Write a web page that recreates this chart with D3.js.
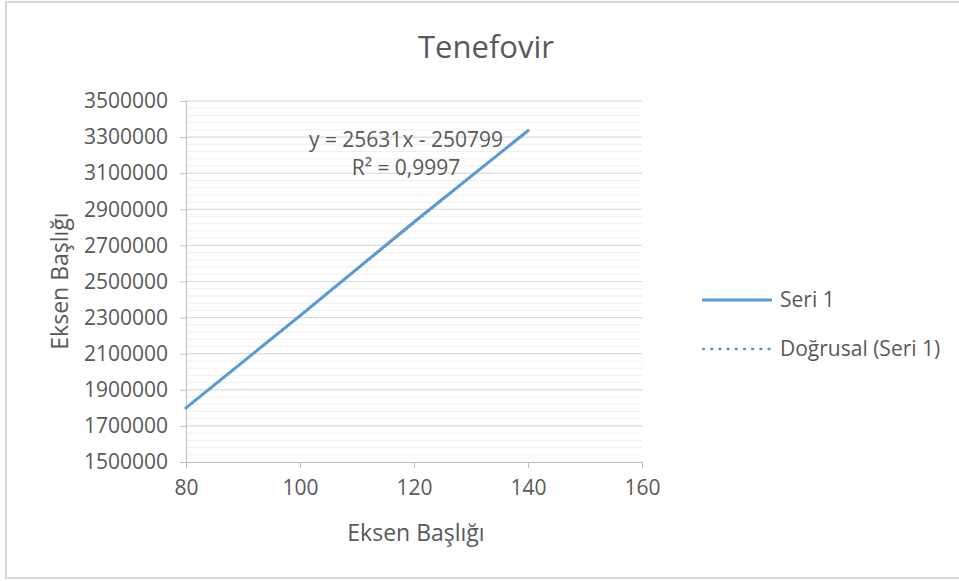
<!DOCTYPE html>
<html lang="tr">
<head>
    <meta charset="utf-8">
    <title>Tenefovir</title>
    <script src="https://d3js.org/d3.v7.min.js"></script>
    <style>
        body { margin: 0; background: #fff; }
        text { font-family: "Open Sans", "Noto Sans", Arial; fill: #595959; }
        .tick-label { font-size: 21px; }
        .axis-title { font-size: 23px; }
        .chart-title { font-size: 31px; }
        .trend-label { font-size: 21px; }
        .legend-label { font-size: 21px; }
    </style>
</head>
<body>
<div id="container"></div>
<script>
    const w = 959;
    const h = 581;

    // data
    const xValues = [80, 100, 120, 140];
    const yValues = [1800000, 2310000, 2830000, 3335000];
    const xTicks = [80, 100, 120, 140, 160];
    const yTicks = [1500000, 1700000, 1900000, 2100000, 2300000, 2500000, 2700000, 2900000, 3100000, 3300000, 3500000];
    const trendSlope = 25631;
    const trendIntercept = -250799;
    const trendText = ["y = 25631x - 250799", "R² = 0,9997"];
    const legendNames = ["Seri 1", "Doğrusal (Seri 1)"];

    const blue = "#5b9bd5";

    const svg = d3.select("#container").append("svg")
        .attr("width", w)
        .attr("height", h);

    // chart border
    svg.append("rect")
        .attr("x", 6).attr("y", 2)
        .attr("width", w + 10).attr("height", 576)
        .attr("fill", "#fff")
        .attr("stroke", "#d9d9d9")
        .attr("stroke-width", 2);

    const x = d3.scaleLinear().domain([80, 160]).range([186, 642]);
    const y = d3.scaleLinear().domain([1500000, 3500000]).range([462, 101]);

    // minor gridlines
    const minor = d3.range(1500000, 3500001, 40000);
    svg.append("g").selectAll("line")
        .data(minor)
        .enter().append("line")
        .attr("x1", x(80)).attr("x2", x(160))
        .attr("y1", d => y(d)).attr("y2", d => y(d))
        .attr("stroke", "#f0f0f0")
        .attr("stroke-width", 1);

    // major gridlines
    svg.append("g").selectAll("line")
        .data(yTicks.slice(1))
        .enter().append("line")
        .attr("x1", x(80)).attr("x2", x(160))
        .attr("y1", d => y(d)).attr("y2", d => y(d))
        .attr("stroke", "#d9d9d9")
        .attr("stroke-width", 1);

    // y axis
    const yAxis = svg.append("g")
        .attr("transform", "translate(" + x(80) + ",0)")
        .call(d3.axisLeft(y).tickValues(yTicks).tickSize(6).tickPadding(12).tickFormat(d3.format("d")));
    yAxis.select(".domain").attr("stroke", "#bfbfbf");
    yAxis.selectAll(".tick line").attr("stroke", "#bfbfbf");
    yAxis.selectAll(".tick text").attr("class", "tick-label").attr("fill", "#595959").attr("font-family", null).attr("font-size", null);

    // x axis
    const xAxis = svg.append("g")
        .attr("transform", "translate(0," + y(1500000) + ")")
        .call(d3.axisBottom(x).tickValues(xTicks).tickSize(6).tickPadding(12));
    xAxis.select(".domain").attr("stroke", "#bfbfbf");
    xAxis.selectAll(".tick line").attr("stroke", "#bfbfbf");
    xAxis.selectAll(".tick text").attr("class", "tick-label").attr("fill", "#595959").attr("font-family", null).attr("font-size", null);

    // trendline (dotted)
    svg.append("line")
        .attr("x1", x(80)).attr("y1", y(trendSlope * 80 + trendIntercept))
        .attr("x2", x(140)).attr("y2", y(trendSlope * 140 + trendIntercept))
        .attr("stroke", blue)
        .attr("stroke-width", 2.5)
        .attr("stroke-dasharray", "1,3")
        .attr("stroke-linecap", "round");

    // series line
    const pts = xValues.map((d, i) => [d, yValues[i]]);
    svg.append("path")
        .datum(pts)
        .attr("d", d3.line().x(d => x(d[0])).y(d => y(d[1])))
        .attr("fill", "none")
        .attr("stroke", blue)
        .attr("stroke-width", 3)
        .attr("stroke-linecap", "round");

    // trendline label
    svg.append("g").selectAll("text")
        .data(trendText)
        .enter().append("text")
        .attr("class", "trend-label")
        .attr("x", 406)
        .attr("y", (d, i) => 147 + i * 28)
        .attr("text-anchor", "middle")
        .text(d => d);

    // title
    svg.append("text")
        .attr("class", "chart-title")
        .attr("x", 486).attr("y", 58)
        .attr("text-anchor", "middle")
        .text("Tenefovir");

    // axis titles
    svg.append("text")
        .attr("class", "axis-title")
        .attr("x", 416).attr("y", 541)
        .attr("text-anchor", "middle")
        .text("Eksen Başlığı");

    svg.append("text")
        .attr("class", "axis-title")
        .attr("transform", "translate(68,281) rotate(-90)")
        .attr("text-anchor", "middle")
        .text("Eksen Başlığı");

    // legend
    const legend = svg.append("g").attr("transform", "translate(702,300)");
    legend.append("line")
        .attr("x1", 0).attr("x2", 70).attr("y1", 0).attr("y2", 0)
        .attr("stroke", blue).attr("stroke-width", 3);
    legend.append("line")
        .attr("x1", 1).attr("x2", 68).attr("y1", 49).attr("y2", 49)
        .attr("stroke", blue).attr("stroke-width", 2.5)
        .attr("stroke-dasharray", "1,7.2").attr("stroke-linecap", "round");
    legend.selectAll("text")
        .data(legendNames)
        .enter().append("text")
        .attr("class", "legend-label")
        .attr("x", 78)
        .attr("y", (d, i) => 7 + i * 49)
        .text(d => d);
</script>
</body>
</html>
